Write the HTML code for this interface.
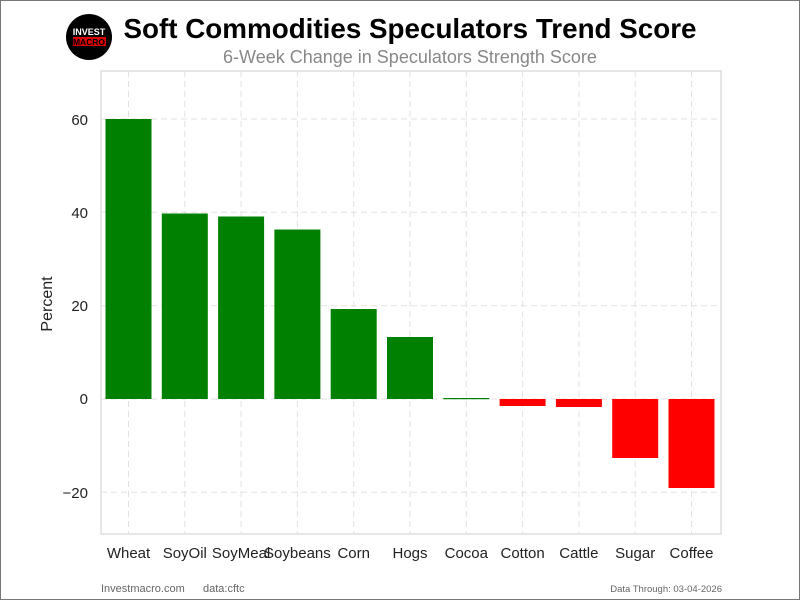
<!DOCTYPE html>
<html><head><meta charset="utf-8"><style>body{margin:0;background:#fff}svg{display:block}</style></head><body>
<svg width="800" height="600" xmlns="http://www.w3.org/2000/svg" font-family="Liberation Sans, Arial, sans-serif">
<rect x="0.5" y="0.5" width="799" height="599" fill="#fff" stroke="#777"/>
<circle cx="89" cy="37" r="23" fill="#000"/>
<text x="89" y="35" text-anchor="middle" font-size="9" font-weight="bold" fill="#fff">INVEST</text>
<rect x="73" y="37" width="33" height="9" fill="#d00"/>
<text x="89" y="45" text-anchor="middle" font-size="8.5" font-weight="bold" fill="#000">MACRO</text>
<text x="410" y="38" text-anchor="middle" font-size="27.8" font-weight="bold" fill="#000">Soft Commodities Speculators Trend Score</text>
<text x="410" y="63" text-anchor="middle" font-size="18" fill="#888">6-Week Change in Speculators Strength Score</text>
<rect x="101" y="71" width="620" height="463" fill="#fff" stroke="#ccc"/>
<g stroke="#e2e2e2" stroke-dasharray="6,4" stroke-width="1">
<line x1="101" x2="721" y1="119" y2="119"/><line x1="101" x2="721" y1="212.3" y2="212.3"/><line x1="101" x2="721" y1="305.7" y2="305.7"/><line x1="101" x2="721" y1="399" y2="399"/><line x1="101" x2="721" y1="492.3" y2="492.3"/>
<line x1="128.5" x2="128.5" y1="71" y2="534"/><line x1="184.8" x2="184.8" y1="71" y2="534"/><line x1="241.1" x2="241.1" y1="71" y2="534"/><line x1="297.4" x2="297.4" y1="71" y2="534"/><line x1="353.7" x2="353.7" y1="71" y2="534"/><line x1="410" x2="410" y1="71" y2="534"/><line x1="466.3" x2="466.3" y1="71" y2="534"/><line x1="522.6" x2="522.6" y1="71" y2="534"/><line x1="578.9" x2="578.9" y1="71" y2="534"/><line x1="635.2" x2="635.2" y1="71" y2="534"/><line x1="691.5" x2="691.5" y1="71" y2="534"/>
</g>
<g fill="#008000">
<rect x="105.5" y="119" width="46" height="280"/>
<rect x="161.8" y="213.5" width="46" height="185.5"/>
<rect x="218.1" y="216.5" width="46" height="182.5"/>
<rect x="274.4" y="229.5" width="46" height="169.5"/>
<rect x="330.7" y="309" width="46" height="90"/>
<rect x="387" y="337" width="46" height="62"/>
<rect x="443.3" y="398" width="46" height="1.2"/>
</g>
<g fill="#ff0000">
<rect x="499.6" y="399" width="46" height="7"/>
<rect x="555.9" y="399" width="46" height="8"/>
<rect x="612.2" y="399" width="46" height="59"/>
<rect x="668.5" y="399" width="46" height="89"/>
</g>
<g font-size="15" fill="#222" text-anchor="end">
<text x="88" y="125">60</text><text x="88" y="218">40</text><text x="88" y="311">20</text><text x="88" y="404">0</text><text x="88" y="498">−20</text>
</g>
<text x="52" y="304" font-size="16" fill="#222" text-anchor="middle" transform="rotate(-90 52 304)">Percent</text>
<g font-size="15" fill="#222" text-anchor="middle">
<text x="128.5" y="558">Wheat</text><text x="184.8" y="558">SoyOil</text><text x="241.1" y="558">SoyMeal</text><text x="297.4" y="558">Soybeans</text><text x="353.7" y="558">Corn</text><text x="410" y="558">Hogs</text><text x="466.3" y="558">Cocoa</text><text x="522.6" y="558">Cotton</text><text x="578.9" y="558">Cattle</text><text x="635.2" y="558">Sugar</text><text x="691.5" y="558">Coffee</text>
</g>
<text x="101" y="592" font-size="11" fill="#666">Investmacro.com</text>
<text x="203" y="592" font-size="11" fill="#666">data:cftc</text>
<text x="722" y="592" font-size="9.5" fill="#666" text-anchor="end">Data Through: 03-04-2026</text>
</svg>
</body></html>
